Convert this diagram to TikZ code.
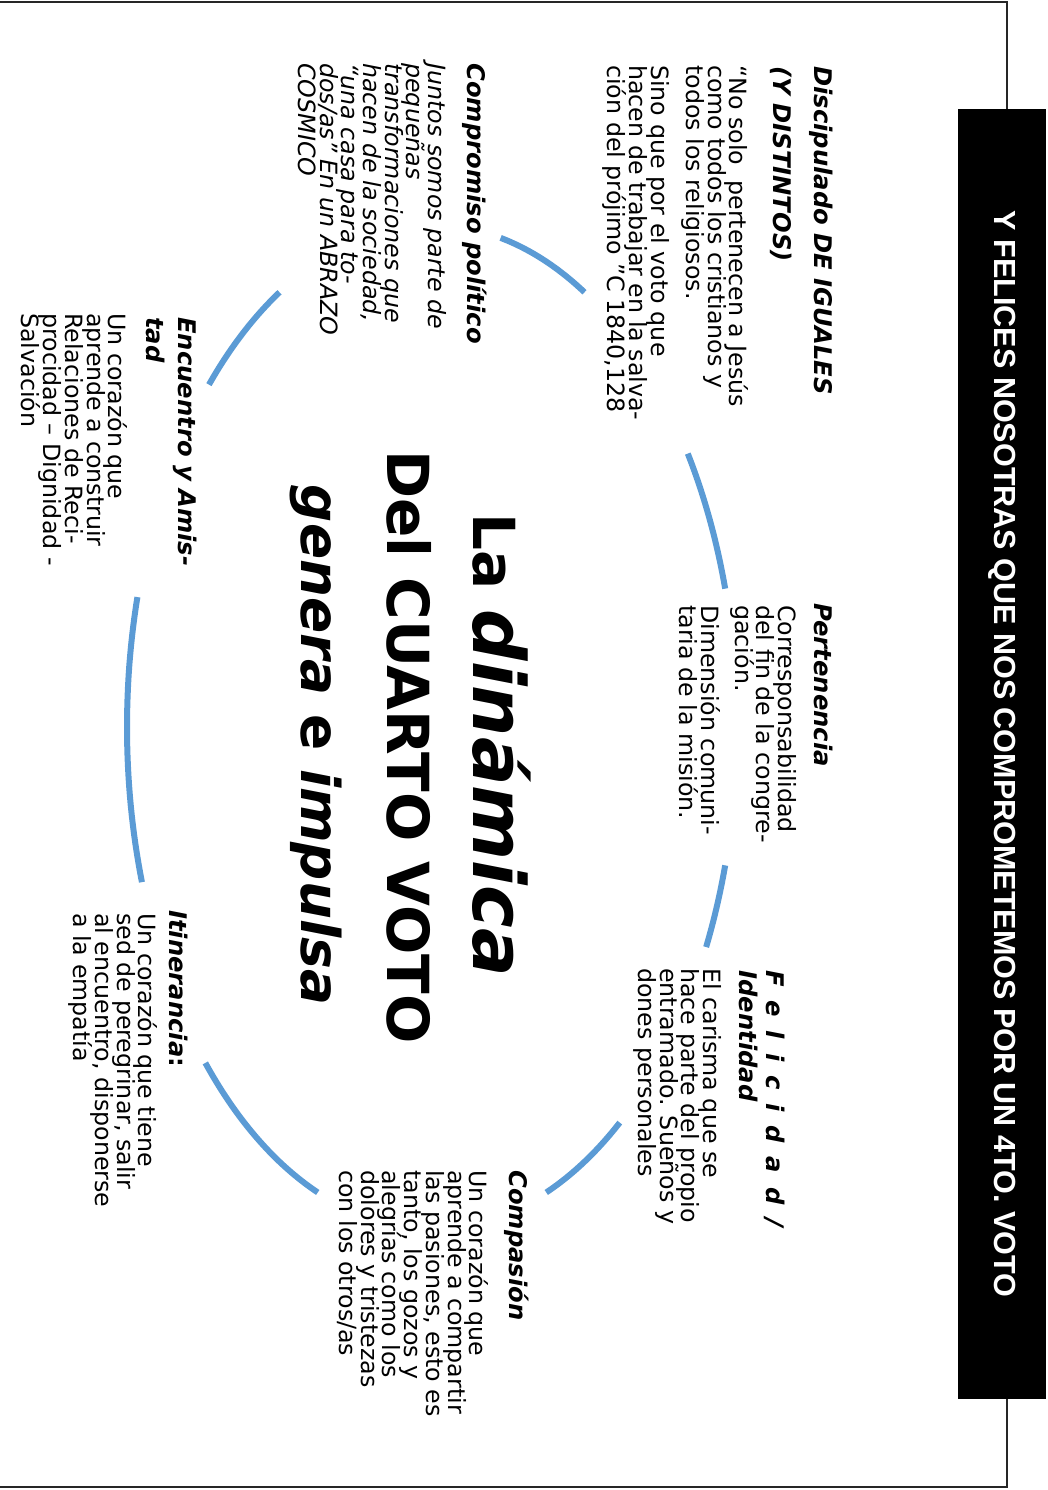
\documentclass[tikz,border=0pt]{standalone}
\usepackage{fontspec}
\setmainfont{DejaVu Sans}[ItalicFont={DejaVu Sans Oblique},BoldFont={DejaVu Sans Bold},BoldItalicFont={DejaVu Sans Bold Oblique}]
\newfontfamily\bandfont{Liberation Sans}
\definecolor{arcblue}{HTML}{5B9BD5}
\newcommand\bodyfs{\fontsize{17.8}{16.3}\selectfont\lineskiplimit=-50pt\lineskip=0pt}
\newcommand\headfs{\fontsize{18.2}{16.3}\selectfont\lineskiplimit=-50pt\lineskip=0pt}
\newcommand\gp{\hspace{0.57em}}
\tikzset{
  blk/.style={rotate=-90, anchor=north west, inner sep=0pt, align=left, font=\bodyfs},
  hd/.style={blk, font=\headfs\bfseries\itshape},
  arcline/.style={draw=arcblue, line width=4.5pt},
  big/.style={rotate=-90, anchor=base, inner sep=0pt},
}
\begin{document}
\begin{tikzpicture}[x=0.75pt,y=-0.75pt]
\useasboundingbox (0,0) rectangle (1048,1490);
\draw[black!85, line width=1.1pt] (0,2) -- (1007,2) -- (1007,1487) -- (0,1487);
\node (band) [fill=black, rotate=-90, minimum width=967.5pt, minimum height=66pt, inner sep=0pt,
  text=white, font=\bandfont\bfseries\fontsize{22.9}{26}\selectfont] at (1002,754)
  {Y FELICES NOSOTRAS QUE NOS COMPROMETEMOS POR UN 4TO. VOTO};
% arcs
\draw[arcline] plot[domain=-77:-60, samples=30, variable=\t] ({432+305*cos(\t)},{727+502*sin(\t)});
\draw[arcline] plot[domain=-33:-16, samples=30, variable=\t] ({432+305*cos(\t)},{727+502*sin(\t)});
\draw[arcline] plot[domain=16:26, samples=30, variable=\t] ({432+305*cos(\t)},{727+502*sin(\t)});
\draw[arcline] plot[domain=52:68, samples=30, variable=\t] ({432+305*cos(\t)},{727+502*sin(\t)});
\draw[arcline] plot[domain=112:138, samples=30, variable=\t] ({432+305*cos(\t)},{727+502*sin(\t)});
\draw[arcline] plot[domain=162:195, samples=30, variable=\t] ({432+305*cos(\t)},{727+502*sin(\t)});
\draw[arcline] plot[domain=223:240, samples=30, variable=\t] ({432+305*cos(\t)},{727+502*sin(\t)});
% centre title
\node (l1) [big] at (473,745) {\fontsize{43.5}{50}\selectfont\bfseries La \fontsize{54}{60}\selectfont\itshape dinámica};
\node (l2) [big] at (387,747) {\fontsize{43.5}{50}\selectfont\bfseries Del CUARTO VOTO};
\node (l3) [big] at (301,745) {\fontsize{40}{50}\selectfont\bfseries\itshape genera \upshape e \itshape impulsa};
% Discipulado
\node (dt1) [hd] at (833,66) {Discipulado DE IGUALES};
\node (dt2) [hd] at (792,66) {(Y DISTINTOS)};
\node (db) [blk] at (749,65) {“No solo\ \ pertenecen a Jesús\\como todos los cristianos y\\todos los religiosos.\\[10pt]Sino que por el voto que\\hacen de trabajar en la salva-\\ción del prójimo ”C 1840,128};
% Compromiso
\node (ct) [hd] at (487,63) {Compromiso político};
\node (cb) [blk, font=\bodyfs\itshape] at (447,63) {Juntos somos parte de\\pequeñas\\transformaciones que\\hacen de la sociedad,\\“una casa para to-\\dos/as” En un ABRAZO\\COSMICO};
% Pertenencia
\node (pt) [hd] at (833,603) {Pertenencia};
\node (pb) [blk] at (797,605) {Corresponsabilidad\\del fin de la congre-\\gación.\\[9pt]Dimensión comuni-\\taria de la misión.};
% Felicidad
\node (ft1) [hd] at (785,970) {F\gp e\gp l\gp i\gp c\gp i\gp d\gp a\gp d\gp /};
\node (ft2) [hd] at (758,970) {Identidad};
\node (fb) [blk] at (722,968) {El carisma que se\\hace parte del propio\\entramado. Sueños y\\dones personales};
% Compasion
\node (kt) [hd] at (529,1170) {Compasión};
\node (kb) [blk] at (489,1170) {Un corazón que\\aprende a compartir\\las pasiones, esto es\\tanto, los gozos y\\alegrías como los\\dolores y tristezas\\con los otros/as};
% Itinerancia
\node (it) [hd] at (188,910) {Itinerancia\upshape:};
\node (ib) [blk] at (158,913) {Un corazón que tiene\\sed de peregrinar, salir\\al encuentro, disponerse\\a la empatía};
% Encuentro
\node (et1) [hd] at (197,317) {Encuentro y Amis-};
\node (et2) [hd] at (165,317) {tad};
\node (eb) [blk] at (128,313) {Un corazón que\\aprende a construir\\Relaciones de Reci-\\procidad – Dignidad -\\Salvación};
\end{tikzpicture}
\end{document}
